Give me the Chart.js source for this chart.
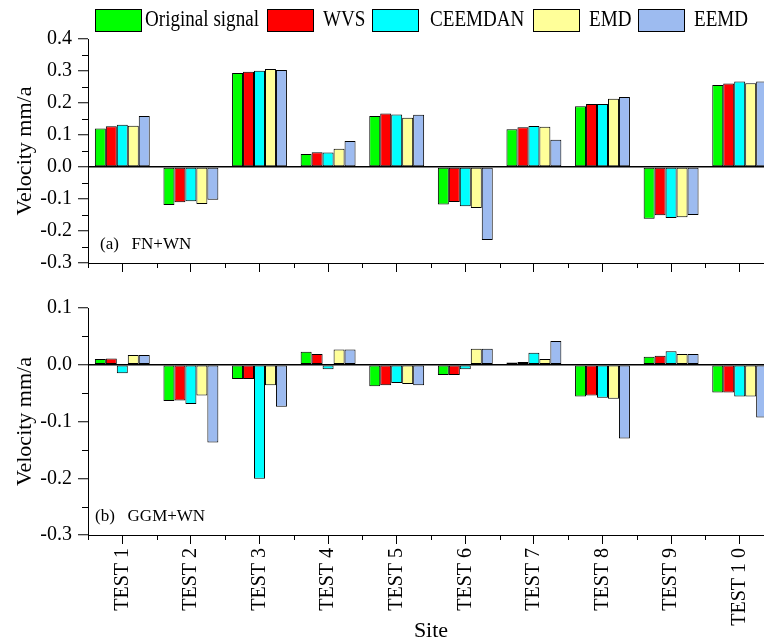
<!DOCTYPE html>
<html>
<head>
<meta charset="utf-8">
<script src="https://cdn.jsdelivr.net/npm/chart.js@4/dist/chart.umd.min.js"></script>
<style>
  html, body { margin: 0; padding: 0; background: #fff; }
  body { width: 764px; height: 644px; overflow: hidden; position: relative; font-family: 'Liberation Serif', serif; }
  canvas { position: absolute; left: 0; }
  #top { top: 0; }
  #bottom { top: 290px; }
  .box { position: absolute; top: 9px; width: 45px; height: 21px; border: 1px solid #000; }
  .lbl { position: absolute; top: 5px; font-size: 23px; line-height: 28px; white-space: pre; transform: scaleX(0.83); transform-origin: 0 0; }
  .panel { position: absolute; font-size: 17px; white-space: pre; line-height: 20px; }
</style>
</head>
<body>
<canvas id="top" width="780" height="290"></canvas>
<canvas id="bottom" width="780" height="354"></canvas>
<div id="legend"></div>
<div class="panel" style="left:100px; top:234px">(a)   FN+WN</div>
<div class="panel" style="left:95px; top:506px">(b)   GGM+WN</div>
<script>
const sites = ['TEST 1', 'TEST 2', 'TEST 3', 'TEST 4', 'TEST 5', 'TEST 6', 'TEST 7', 'TEST 8', 'TEST 9', 'TEST 1 0'];
const methods = ['Original signal', 'WVS', 'CEEMDAN', 'EMD', 'EEMD'];
const colors = ['#00ff00', '#ff0000', '#00ffff', '#ffff99', '#9dbbf0'];

// (a) FN+WN
const origA    = [0.120, -0.119, 0.294, 0.041, 0.159, -0.117, 0.118, 0.190, -0.162, 0.256];
const wvsA     = [0.127, -0.110, 0.298, 0.046, 0.167, -0.109, 0.124, 0.197, -0.151, 0.261];
const ceemdanA = [0.132, -0.107, 0.301, 0.045, 0.164, -0.123, 0.128, 0.197, -0.159, 0.267];
const emdA     = [0.129, -0.116, 0.306, 0.057, 0.154, -0.128, 0.126, 0.213, -0.157, 0.262];
const eemdA    = [0.159, -0.102, 0.303, 0.081, 0.163, -0.228, 0.085, 0.219, -0.150, 0.267];

// (b) GGM+WN
const origB    = [0.010, -0.064, -0.025, 0.023, -0.038, -0.018, 0.004, -0.056, 0.014, -0.049];
const wvsB     = [0.011, -0.063, -0.025, 0.019, -0.036, -0.018, 0.005, -0.054, 0.016, -0.049];
const ceemdanB = [-0.015, -0.069, -0.201, -0.008, -0.032, -0.008, 0.021, -0.058, 0.024, -0.056];
const emdB     = [0.017, -0.054, -0.036, 0.027, -0.034, 0.028, 0.010, -0.060, 0.019, -0.056];
const eemdB    = [0.017, -0.137, -0.074, 0.027, -0.036, 0.028, 0.042, -0.130, 0.019, -0.093];

const ticksA = { min: -0.3, max: 0.4 };
const ticksB = { min: -0.3, max: 0.1 };

// legend (html, positions)
const legendPos = [[95, 145], [267, 323], [372, 430], [533, 589], [638, 694]];
const legend = document.getElementById('legend');
methods.forEach((m, i) => {
    const b = document.createElement('div');
    b.className = 'box';
    b.style.left = legendPos[i][0] + 'px';
    b.style.background = colors[i];
    legend.appendChild(b);
    const t = document.createElement('div');
    t.className = 'lbl';
    t.style.left = legendPos[i][1] + 'px';
    t.textContent = m;
    legend.appendChild(t);
});

const serif = 'Liberation Serif';

// short ticks between the major ones
const minorTicks = {
    id: 'minorTicks',
    afterDraw(chart) {
        const { ctx, chartArea } = chart;
        const x = chart.scales.x, y = chart.scales.y;
        ctx.save();
        ctx.strokeStyle = '#000';
        ctx.lineWidth = 1;
        ctx.beginPath();
        for (let v = y.min + 0.05; v < y.max; v += 0.1) {
            const py = Math.round(y.getPixelForValue(v)) + 0.5;
            ctx.moveTo(chartArea.left, py);
            ctx.lineTo(chartArea.left - 6, py);
        }
        for (let i = 0; i <= sites.length; i++) {
            const px = Math.round(x.getPixelForValue(i - 0.5)) + 0.5;
            ctx.moveTo(px, chartArea.bottom);
            ctx.lineTo(px, chartArea.bottom + 5);
        }
        ctx.stroke();
        ctx.restore();
    }
};

function makeChart(id, series, range, bottom) {
    return new Chart(document.getElementById(id), {
        type: 'bar',
        data: {
            labels: sites,
            datasets: methods.map((m, i) => ({
                label: m,
                data: series[i],
                backgroundColor: colors[i],
                borderColor: '#000',
                borderWidth: 1,
                borderSkipped: false,
                categoryPercentage: 0.8,
                barPercentage: 1.0
            }))
        },
        options: {
            responsive: false,
            animation: false,
            devicePixelRatio: 1,
            layout: {
                padding: bottom
                    ? { top: 18, right: 6, bottom: 0, left: 0 }
                    : { top: 39, right: 6, bottom: 17, left: 0 }
            },
            plugins: {
                legend: { display: false },
                tooltip: { enabled: false }
            },
            scales: {
                x: {
                    afterFit: s => { s.height = bottom ? 109 : 10; },
                    grid: {
                        offset: false,
                        drawOnChartArea: false,
                        tickLength: 9,
                        tickColor: '#000'
                    },
                    border: { display: true, color: '#000', width: 1 },
                    ticks: {
                        display: bottom,
                        minRotation: 90,
                        maxRotation: 90,
                        padding: 4,
                        color: '#000',
                        font: { family: serif, size: 20 }
                    },
                    title: {
                        display: bottom,
                        text: 'Site',
                        color: '#000',
                        padding: { top: 0, bottom: 0 },
                        font: { family: serif, size: 22 }
                    }
                },
                y: {
                    min: range.min,
                    max: range.max,
                    afterFit: s => { s.width = 88; },
                    grid: {
                        color: c => Math.abs(c.tick.value) < 1e-9 ? '#000' : 'rgba(0,0,0,0)',
                        lineWidth: 1.5,
                        tickColor: '#000',
                        tickWidth: 1,
                        tickLength: 10
                    },
                    border: { display: true, color: '#000', width: 1 },
                    ticks: {
                        stepSize: 0.1,
                        padding: 6,
                        color: '#000',
                        font: { family: serif, size: 20 },
                        callback: v => v.toFixed(1)
                    },
                    title: {
                        display: true,
                        text: 'Velocity mm/a',
                        color: '#000',
                        padding: { top: 12, bottom: 0 },
                        font: { family: serif, size: 22 }
                    }
                }
            }
        },
        plugins: [minorTicks]
    });
}

makeChart('top', [origA, wvsA, ceemdanA, emdA, eemdA], ticksA, false);
makeChart('bottom', [origB, wvsB, ceemdanB, emdB, eemdB], ticksB, true);
</script>
</body>
</html>
